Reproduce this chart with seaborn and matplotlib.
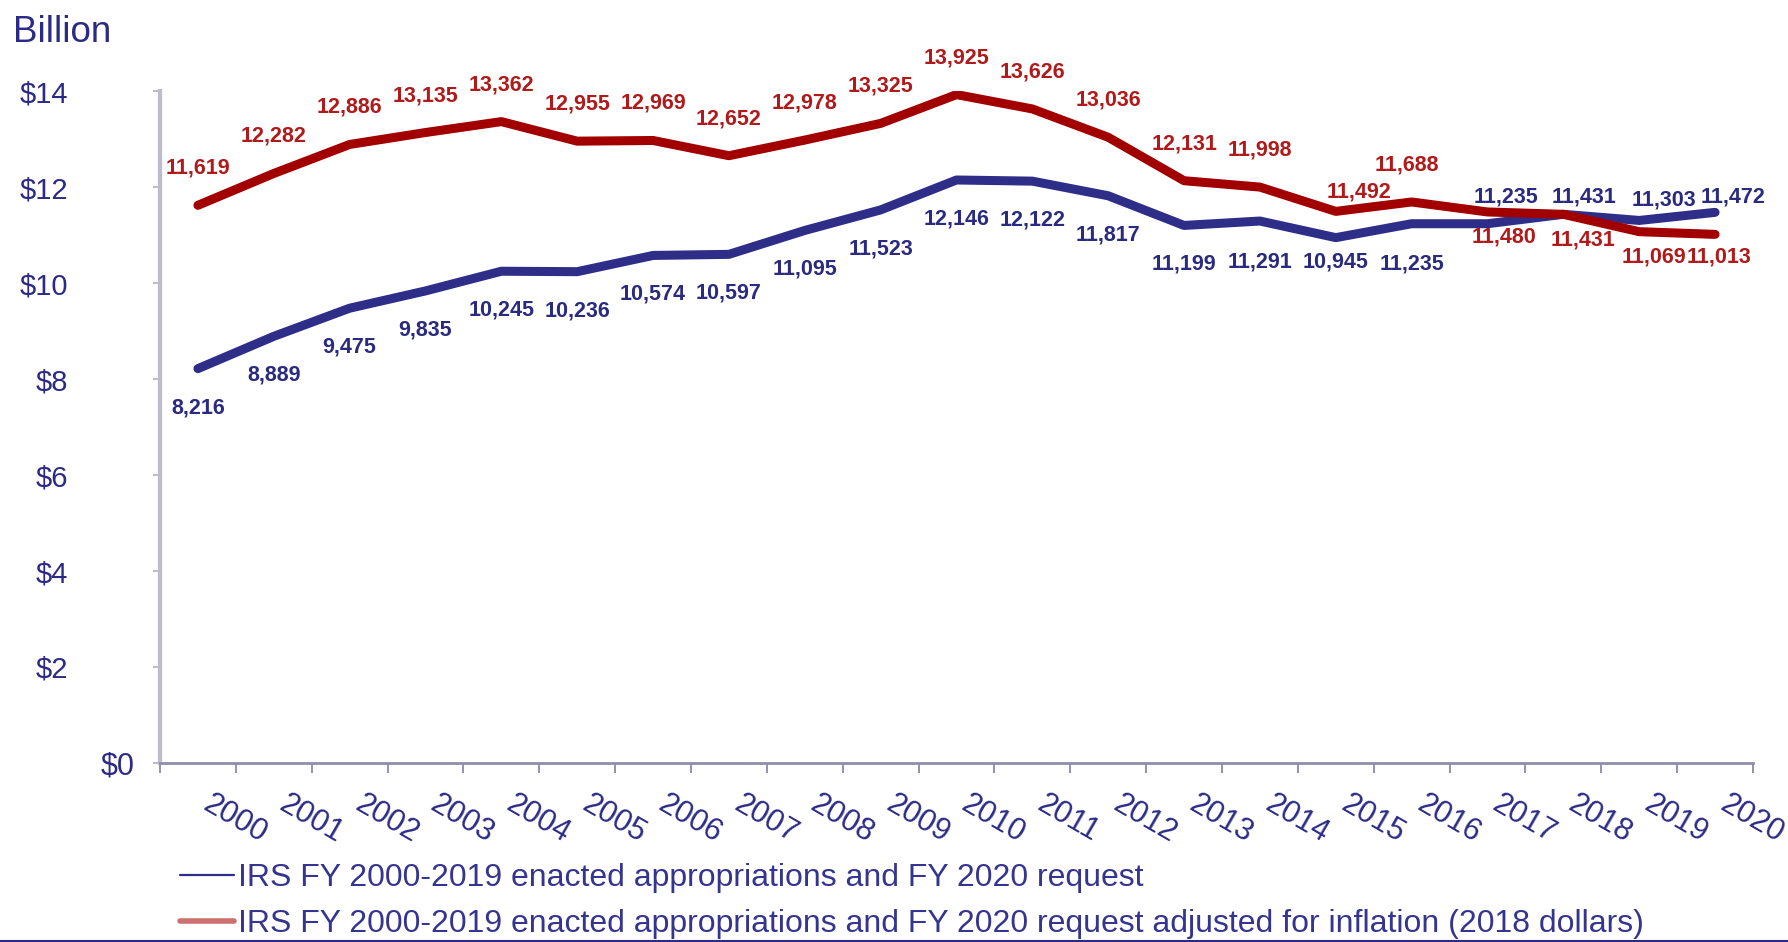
import pandas as pd
import seaborn as sns
import matplotlib.pyplot as plt
from matplotlib.lines import Line2D
from matplotlib.ticker import FixedLocator

# 1. Data (millions of dollars)
years = ['2000', '2001', '2002', '2003', '2004', '2005', '2006', '2007', '2008', '2009', '2010',
         '2011', '2012', '2013', '2014', '2015', '2016', '2017', '2018', '2019', '2020']
nominal = [8216, 8889, 9475, 9835, 10245, 10236, 10574, 10597, 11095, 11523, 12146,
           12122, 11817, 11199, 11291, 10945, 11235, 11235, 11431, 11303, 11472]
adjusted = [11619, 12282, 12886, 13135, 13362, 12955, 12969, 12652, 12978, 13325, 13925,
            13626, 13036, 12131, 11998, 11492, 11688, 11480, 11431, 11069, 11013]
y_ticks = [0, 2, 4, 6, 8, 10, 12, 14]
y_labels = ['$0', '$2', '$4', '$6', '$8', '$10', '$12', '$14']
legend_labels = ['IRS FY 2000-2019 enacted appropriations and FY 2020 request',
                 'IRS FY 2000-2019 enacted appropriations and FY 2020 request adjusted for inflation (2018 dollars)']

df = pd.DataFrame({
    'year': years * 2,
    'value': [v / 1000 for v in nominal + adjusted],
    'series': ['nominal'] * len(nominal) + ['adjusted'] * len(adjusted),
})

# label offsets in pixels (default: blue below, red above)
blue_offsets = {'2014': (0, -41), '2015': (0, -24), '2016': (0, -40), '2017': (19, 27),
                '2018': (21, 17), '2019': (25, 20), '2020': (18, 15)}
red_offsets = {'2015': (23, 19), '2016': (-5, 37), '2017': (17, -25), '2018': (20, -26),
               '2019': (15, -25), '2020': (4, -23)}

BLUE = '#2e2e88'
RED = '#a20000'
NAVY = '#2b2b85'

# 2. Style
sns.set_theme(style='white')
plt.rcParams['font.family'] = ['Liberation Sans', 'DejaVu Sans']

fig = plt.figure(figsize=(17.88, 9.42), dpi=100)
ax = fig.add_axes([160 / 1788, 1 - 763 / 942, (1753 - 160) / 1788, (763 - 91) / 942])

# 3. Lines
sns.lineplot(data=df, x='year', y='value', hue='series',
             palette={'nominal': BLUE, 'adjusted': RED},
             linewidth=6.5, legend=False, errorbar=None, ax=ax)
for line in ax.lines:
    line.set_solid_capstyle('round')
    line.set_solid_joinstyle('round')

# value labels
for i, (yr, v) in enumerate(zip(years, nominal)):
    dx, dy = blue_offsets.get(yr, (0, -39))
    ax.annotate(f'{v:,}', xy=(i, v / 1000), xytext=(dx, dy), textcoords='offset pixels',
                ha='center', va='center', fontsize=15.5, fontweight='bold', color='#2a2a7e')
for i, (yr, v) in enumerate(zip(years, adjusted)):
    dx, dy = red_offsets.get(yr, (0, 37))
    ax.annotate(f'{v:,}', xy=(i, v / 1000), xytext=(dx, dy), textcoords='offset pixels',
                ha='center', va='center', fontsize=15.5, fontweight='bold', color='#b01a1a')

# 4. Axes
ax.set_xlim(-0.5, len(years) - 0.5)
ax.set_ylim(0, 14)
ax.set_xlabel('')
ax.set_ylabel('')

ax.set_xticks(range(len(years)))
ax.set_xticklabels(years, rotation=-30, ha='left', va='top', rotation_mode='default')
ax.xaxis.set_minor_locator(FixedLocator([i - 0.5 for i in range(len(years) + 1)]))
ax.tick_params(axis='x', which='major', length=0, pad=19, labelsize=22, labelcolor=NAVY)
ax.tick_params(axis='x', which='minor', bottom=True, length=7.2, width=1.3, color='#8a8aa6')

ax.set_yticks(y_ticks)
ax.set_yticklabels([''] + y_labels[1:])
ax.tick_params(axis='y', left=True, length=5, width=1.3, color='#b4b4c6', pad=61,
               labelsize=21, labelcolor=NAVY)
ax.annotate(y_labels[0], xy=(0, 0), xycoords='axes fraction', xytext=(-25, 0),
            textcoords='offset pixels', ha='right', va='center_baseline', fontsize=22, color=NAVY)

for side in ['top', 'right']:
    ax.spines[side].set_visible(False)
ax.spines['left'].set_color('#bcbccd')
ax.spines['left'].set_linewidth(3)
ax.spines['bottom'].set_color('#8e8eaa')
ax.spines['bottom'].set_linewidth(2)

fig.text(13 / 1788, 1 - 42 / 942, 'Billion', fontsize=26.5, color=NAVY, ha='left', va='baseline')

# 5. Legend (kept fully inside the figure)
handles = [Line2D([], [], color=BLUE, lw=1.6), Line2D([], [], color='#cc7070', lw=4)]
fig.legend(handles, legend_labels, loc='upper left', bbox_to_anchor=(180 / 1788, 1 - 863 / 942),
           frameon=False, fontsize=23, labelcolor='#35358f', handlelength=1.7,
           handletextpad=0.1, labelspacing=0.5, borderpad=0, borderaxespad=0)

fig.add_artist(Line2D([0, 1], [1.5 / 942, 1.5 / 942], transform=fig.transFigure, color=NAVY, lw=1.5))

fig.savefig('out.png', dpi=100)
